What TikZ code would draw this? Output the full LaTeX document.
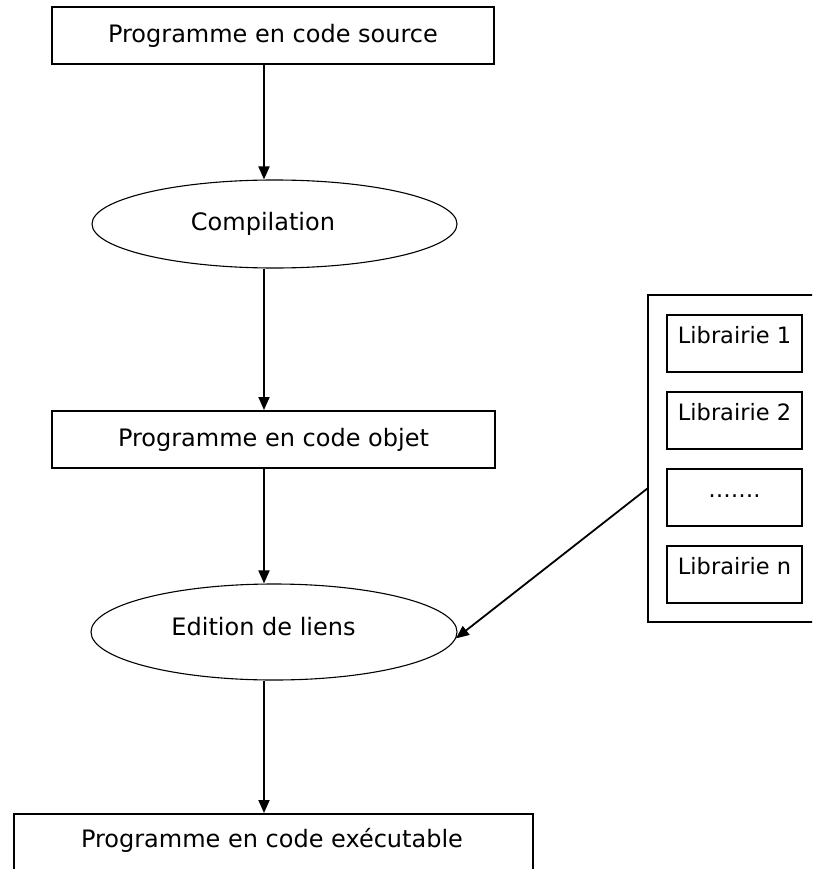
\documentclass[tikz,border=0pt]{standalone}
\usepackage{fontspec}
\setmainfont{DejaVu Sans}
\usetikzlibrary{shapes.geometric,arrows.meta}
\begin{document}
\begin{tikzpicture}[x=1pt,y=-1pt,
  txt/.style={font=\fontsize{24}{28}\selectfont},
  libtxt/.style={font=\fontsize{22.5}{26}\selectfont},
  procbox/.style={draw,line width=2pt,rectangle,inner sep=0pt},
  stepell/.style={draw,line width=1.1pt,ellipse,inner sep=0pt},
  libbox/.style={draw,line width=2pt,rectangle,inner sep=0pt,minimum width=135pt,minimum height=57pt,
    libtxt,text height=17pt,text depth=17pt},
  arr/.style={line width=1.8pt,-{Triangle[length=13pt,width=11pt]}}]
\clip (0,0) rectangle (812,869);
\fill[white] (0,0) rectangle (812,869);
% main column
\node[procbox,minimum width=442pt,minimum height=57pt,txt] (box1) at (273,35.5) {Programme en code source};
\node[stepell,minimum width=365pt,minimum height=88pt] (ell1) at (274.5,224) {};
\node[txt] (ell1t) at (263,224) {Compilation};
\node[procbox,minimum width=443pt,minimum height=57pt,txt] (box2) at (273.5,439.5) {Programme en code objet};
\node[stepell,minimum width=366pt,minimum height=96pt] (ell2) at (274,632) {};
\node[txt] (ell2t) at (263.5,627) {Edition de liens};
\node[procbox,minimum width=519pt,minimum height=90pt] (box3) at (273.5,859) {};
\node[txt] (box3t) at (272,840) {Programme en code exécutable};
% libraries
\node[procbox,minimum width=182pt,minimum height=327pt] (cont) at (739,458.5) {};
\node[libbox] (lib1) at (734.5,343.5) {Librairie 1};
\node[libbox] (lib2) at (734.5,420.5) {Librairie 2};
\node[libbox] (libd) at (734.5,497) {…….};
\node[libbox] (libn) at (734.5,574) {Librairie n};
% connectors
\coordinate (axis) at (264,0);
\coordinate (contl) at (648,488);
\draw[arr] (box1.south -| axis) -- (ell1.north -| axis);
\draw[arr] (ell1.south -| axis) -- (box2.north -| axis);
\draw[arr] (box2.south -| axis) -- (ell2.north -| axis);
\draw[arr] (ell2.south -| axis) -- (box3.north -| axis);
\draw[arr] (contl) -- (ell2.-2.5);
\end{tikzpicture}
\end{document}
